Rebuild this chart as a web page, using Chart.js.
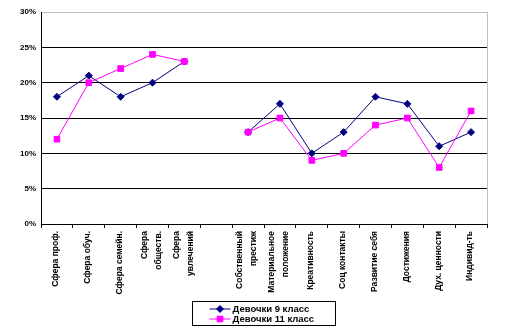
<!DOCTYPE html>
<html>
<head>
<meta charset="utf-8">
<script src="https://cdn.jsdelivr.net/npm/chart.js@4/dist/chart.umd.min.js"></script>
<style>
  body { margin: 0; background: #fff; }
  #wrap { width: 522px; height: 330px; }
</style>
</head>
<body>
<div id="wrap"><canvas id="chart" width="522" height="330"></canvas></div>
<script>
// categories (empty slot separates the two groups)
const categories = [
    'Сфера проф.', 'Сфера обуч.', 'Сфера семейн.', ['Сфера', 'обществ.'], ['Сфера', 'увлечений'],
    '',
    ['Собственный', 'престиж'], ['Материальное', 'положение'], 'Креативность', 'Соц контакты',
    'Развитие себя', 'Достижения', 'Дух. ценности', 'Индивид-ть'
];
const grade9 = [18, 21, 18, 20, 23, null, 13, 17, 10, 13, 18, 17, 11, 13];
const grade11 = [12, 20, 22, 24, 23, null, 13, 15, 9, 10, 14, 15, 8, 16];
const seriesNames = ['Девочки 9 класс', 'Девочки 11 класс'];
const yTicks = [0, 5, 10, 15, 20, 25, 30];

const NAVY = '#000080';
const PINK = '#ff00ff';
const FONT = '"Liberation Sans", Arial, sans-serif';

// gray frame on the right side of the plot
const framePlugin = {
    id: 'frame',
    beforeDatasetsDraw(chart) {
        const a = chart.chartArea, ctx = chart.ctx;
        const x = Math.round(a.right) + 0.5;
        ctx.save();
        ctx.strokeStyle = '#c0c0c0';
        ctx.lineWidth = 1;
        ctx.beginPath();
        ctx.moveTo(x, a.top);
        ctx.lineTo(x, a.bottom);
        ctx.stroke();
        ctx.restore();
    }
};

// vertical category labels, multi-line ones centred on the tick
const xLabelPlugin = {
    id: 'xLabels',
    afterDraw(chart) {
        const scale = chart.scales.x, ctx = chart.ctx;
        const top = chart.chartArea.bottom + 7;
        const lh = 14;
        ctx.save();
        ctx.fillStyle = '#000';
        ctx.font = 'bold 8.5px ' + FONT;
        ctx.textAlign = 'right';
        ctx.textBaseline = 'middle';
        categories.forEach((lab, i) => {
            const lines = Array.isArray(lab) ? lab : [lab];
            const x = scale.getPixelForValue(i) - 1;
            ctx.save();
            ctx.translate(x, top);
            ctx.rotate(-Math.PI / 2);
            lines.forEach((t, k) => {
                ctx.fillText(t, 0, (k - (lines.length - 1) / 2) * lh);
            });
            ctx.restore();
        });
        ctx.restore();
    }
};

// boxed legend, line with marker for each series
const legendPlugin = {
    id: 'boxLegend',
    afterDraw(chart) {
        const ctx = chart.ctx;
        const w = 143, h = 24;
        const left = Math.round(chart.width / 2 - w / 2 + 2) + 0.5;
        const top = Math.round(chart.chartArea.bottom + 77) + 0.5;
        ctx.save();
        ctx.strokeStyle = '#000';
        ctx.lineWidth = 1;
        ctx.strokeRect(left, top, w, h);
        ctx.font = 'bold 9.5px ' + FONT;
        ctx.textBaseline = 'middle';
        chart.data.datasets.forEach((ds, i) => {
            const y = top + 7.5 + i * 10;
            ctx.lineWidth = 1;
            ctx.strokeStyle = ds.borderColor;
            ctx.beginPath();
            ctx.moveTo(left + 17, y);
            ctx.lineTo(left + 38, y);
            ctx.stroke();
            ctx.fillStyle = ds.pointBackgroundColor;
            ctx.strokeStyle = ds.pointBorderColor;
            Chart.helpers.drawPoint(ctx, {
                pointStyle: ds.pointStyle, radius: ds.pointRadius, borderWidth: 1
            }, left + 27.5, y);
            ctx.fillStyle = '#000';
            ctx.fillText(ds.label, left + 40, y + 0.5);
        });
        ctx.restore();
    }
};

new Chart(document.getElementById('chart'), {
    type: 'line',
    data: {
        labels: categories,
        datasets: [{
            label: seriesNames[0],
            data: grade9,
            borderColor: NAVY,
            backgroundColor: NAVY,
            pointBackgroundColor: NAVY,
            pointBorderColor: NAVY,
            borderWidth: 1,
            pointStyle: 'rectRot',
            pointRadius: 3.5,
            pointBorderWidth: 1,
            tension: 0,
            spanGaps: false,
            order: 2
        }, {
            label: seriesNames[1],
            data: grade11,
            borderColor: PINK,
            backgroundColor: PINK,
            pointBackgroundColor: PINK,
            pointBorderColor: PINK,
            borderWidth: 1,
            pointStyle: 'rect',
            pointRadius: 4,
            pointBorderWidth: 1,
            tension: 0,
            spanGaps: false,
            order: 1
        }]
    },
    options: {
        responsive: false,
        animation: false,
        layout: { padding: { top: 12, right: 35, bottom: 0, left: 0 } },
        plugins: {
            legend: { display: false },
            tooltip: { enabled: false }
        },
        scales: {
            x: {
                type: 'category',
                offset: true,
                grid: {
                    display: true,
                    drawOnChartArea: false,
                    offset: true,
                    tickLength: 4,
                    color: '#000'
                },
                border: { display: true, color: '#000', width: 1 },
                ticks: { display: false, autoSkip: false },
                afterFit(s) { s.height = 106; }
            },
            y: {
                min: 0,
                max: 30,
                afterBuildTicks(s) { s.ticks = yTicks.map(v => ({ value: v })); },
                grid: {
                    drawTicks: false,
                    color: c => (c.tick && c.tick.value === 30) ? '#c0c0c0' : '#000',
                    lineWidth: 1
                },
                border: { display: true, color: '#000', width: 1 },
                ticks: {
                    padding: 5,
                    color: '#000',
                    font: { family: FONT, size: 8, weight: 'bold' },
                    callback: v => v + '%'
                },
                afterFit(s) { s.width = 41; }
            }
        }
    },
    plugins: [framePlugin, xLabelPlugin, legendPlugin]
});
</script>
</body>
</html>
